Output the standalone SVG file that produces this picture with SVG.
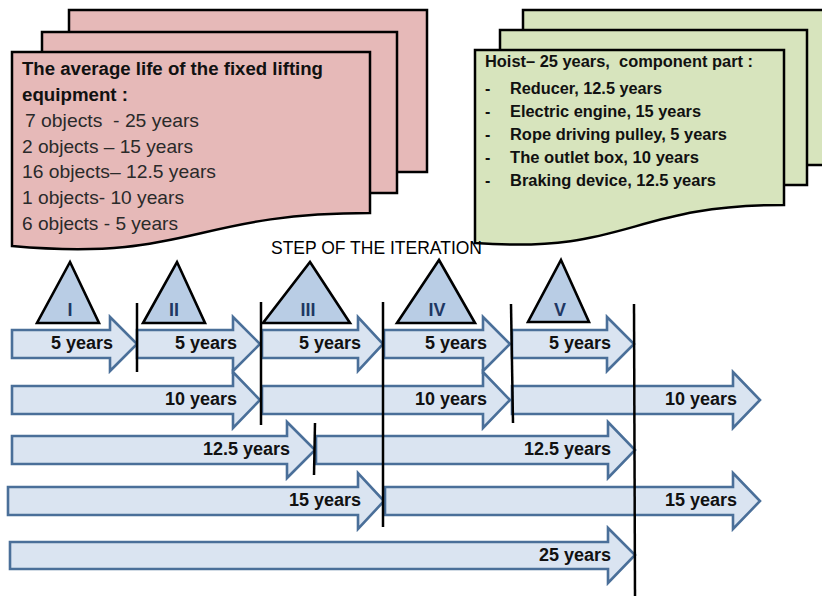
<svg xmlns="http://www.w3.org/2000/svg" width="822" height="596" viewBox="0 0 822 596">
<style>
.pink{fill:#e6b9b8;stroke:#000;stroke-width:2.5;stroke-linejoin:miter}
.green{fill:#d7e4bd;stroke:#000;stroke-width:2.5}
.arr{fill:#dae4f1;stroke:#4a6f99;stroke-width:2.6;stroke-linejoin:miter}
.tri{fill:#b9cde5;stroke:#000;stroke-width:2.6;stroke-linejoin:miter}
.div{stroke:#000;stroke-width:2.5;fill:none}
.lbl{font-family:"Liberation Sans",Arial,sans-serif;font-weight:bold;font-size:18px;fill:#111;text-anchor:end}
.num{font-family:"Liberation Sans",Arial,sans-serif;font-weight:bold;font-size:18px;fill:#1f3763;text-anchor:middle}
.ptitle{font-family:"Liberation Sans",Arial,sans-serif;font-weight:bold;font-size:18px;fill:#111}
.plist{font-family:"Liberation Sans",Arial,sans-serif;font-size:18.5px;fill:#2a2a2a}
.gtxt{font-family:"Liberation Sans",Arial,sans-serif;font-weight:bold;font-size:16px;fill:#111}
.step{font-family:"Liberation Sans",Arial,sans-serif;font-size:17.5px;fill:#000}
</style>

<g id="pink-doc">
  <rect class="pink" x="69" y="10" width="358" height="162"/>
  <rect class="pink" x="42" y="32" width="355" height="161"/>
  <path class="pink" d="M12,52 H370 V213 C191,213 191,262 12,246 Z"/>
  <text class="ptitle" x="22" y="75" textLength="301" lengthAdjust="spacingAndGlyphs">The average life of the fixed lifting</text>
  <text class="ptitle" x="22" y="101" textLength="106" lengthAdjust="spacingAndGlyphs">equipment :</text>
  <text class="plist" x="25" y="127" textLength="174" lengthAdjust="spacingAndGlyphs" xml:space="preserve">7 objects  - 25 years</text>
  <text class="plist" x="22" y="153" textLength="171" lengthAdjust="spacingAndGlyphs">2 objects – 15 years</text>
  <text class="plist" x="22" y="178" textLength="194" lengthAdjust="spacingAndGlyphs">16 objects– 12.5 years</text>
  <text class="plist" x="22" y="204" textLength="162" lengthAdjust="spacingAndGlyphs">1 objects- 10 years</text>
  <text class="plist" x="22" y="230" textLength="156" lengthAdjust="spacingAndGlyphs">6 objects - 5 years</text>
</g>

<g id="green-doc">
  <rect class="green" x="523" y="10" width="305" height="155"/>
  <rect class="green" x="500" y="30" width="307" height="155"/>
  <path class="green" d="M475,50 H784 V205 C629,205 629,254 475,243 Z"/>
  <text class="gtxt" x="485" y="67" textLength="268" lengthAdjust="spacingAndGlyphs" xml:space="preserve">Hoist– 25 years,  component part :</text>
  <text class="gtxt" x="485" y="94">-</text>
  <text class="gtxt" x="510" y="94" textLength="152" lengthAdjust="spacingAndGlyphs">Reducer, 12.5 years</text>
  <text class="gtxt" x="485" y="117">-</text>
  <text class="gtxt" x="510" y="117" textLength="191" lengthAdjust="spacingAndGlyphs">Electric engine, 15 years</text>
  <text class="gtxt" x="485" y="140">-</text>
  <text class="gtxt" x="510" y="140" textLength="217" lengthAdjust="spacingAndGlyphs">Rope driving pulley, 5 years</text>
  <text class="gtxt" x="485" y="163">-</text>
  <text class="gtxt" x="510" y="163" textLength="189" lengthAdjust="spacingAndGlyphs">The outlet box, 10 years</text>
  <text class="gtxt" x="485" y="186">-</text>
  <text class="gtxt" x="510" y="186" textLength="206" lengthAdjust="spacingAndGlyphs">Braking device, 12.5 years</text>
</g>

<g id="step-title">
  <text class="step" x="271" y="254" textLength="211" lengthAdjust="spacingAndGlyphs">STEP OF THE ITERATION</text>
</g>

<g id="arrows">
  <g id="row1">
    <path class="arr" d="M12,330 H110 V317 L137,344 L110,371 V358 H12 Z"/>
    <path class="arr" d="M137,330 H233 V317 L260,344 L233,371 V358 H137 Z"/>
    <path class="arr" d="M262,330 H358 V317 L383,344 L358,371 V358 H262 Z"/>
    <path class="arr" d="M384,330 H483 V317 L510,344 L483,371 V358 H384 Z"/>
    <path class="arr" d="M512,330 H607 V317 L634,344 L607,371 V358 H512 Z"/>
  </g>
  <g id="row2">
    <path class="arr" d="M12,386 H233 V372 L260,400 L233,428 V414 H12 Z"/>
    <path class="arr" d="M262,386 H483 V372 L510,400 L483,428 V414 H262 Z"/>
    <path class="arr" d="M512,386 H733 V372 L760,400 L733,428 V414 H512 Z"/>
  </g>
  <g id="row3">
    <path class="arr" d="M12,436 H287 V422 L315,450 L287,478 V464 H12 Z"/>
    <path class="arr" d="M316,436 H608 V422 L635,450 L608,478 V464 H316 Z"/>
  </g>
  <g id="row4">
    <path class="arr" d="M8,487 H358 V473 L384,501 L358,529 V515 H8 Z"/>
    <path class="arr" d="M385,487 H733 V473 L760,501 L733,529 V515 H385 Z"/>
  </g>
  <g id="row5">
    <path class="arr" d="M10,542 H608 V528 L635,555 L608,583 V569 H10 Z"/>
  </g>
</g>

<g id="arrow-labels">
  <text class="lbl" x="113" y="349">5 years</text>
  <text class="lbl" x="237" y="349">5 years</text>
  <text class="lbl" x="361" y="349">5 years</text>
  <text class="lbl" x="487" y="349">5 years</text>
  <text class="lbl" x="611" y="349">5 years</text>
  <text class="lbl" x="237" y="405">10 years</text>
  <text class="lbl" x="487" y="405">10 years</text>
  <text class="lbl" x="737" y="405">10 years</text>
  <text class="lbl" x="290" y="455">12.5 years</text>
  <text class="lbl" x="611" y="455">12.5 years</text>
  <text class="lbl" x="361" y="506">15 years</text>
  <text class="lbl" x="737" y="506">15 years</text>
  <text class="lbl" x="611" y="561">25 years</text>
</g>

<g id="connectors">
  <line class="div" x1="137" y1="303" x2="137" y2="372"/>
  <line class="div" x1="261" y1="302" x2="261" y2="425"/>
  <line class="div" x1="383" y1="302" x2="383" y2="527"/>
  <line class="div" x1="511" y1="304" x2="513" y2="423"/>
  <line class="div" x1="634" y1="304" x2="635" y2="596"/>
  <line class="div" x1="315" y1="423" x2="314" y2="475"/>
</g>

<g id="step-I">
  <polygon class="tri" points="70,262 99,323 37,323"/>
  <text class="num" x="70" y="316">I</text>
</g>
<g id="step-II">
  <polygon class="tri" points="177,262 205,323 143,323"/>
  <text class="num" x="174" y="316">II</text>
</g>
<g id="step-III">
  <polygon class="tri" points="310,262 350,323 263,323"/>
  <text class="num" x="308" y="316">III</text>
</g>
<g id="step-IV">
  <polygon class="tri" points="439,260 475,323 397,323"/>
  <text class="num" x="437" y="316">IV</text>
</g>
<g id="step-V">
  <polygon class="tri" points="561,260 589,322 528,322"/>
  <text class="num" x="560" y="316">V</text>
</g>
</svg>
